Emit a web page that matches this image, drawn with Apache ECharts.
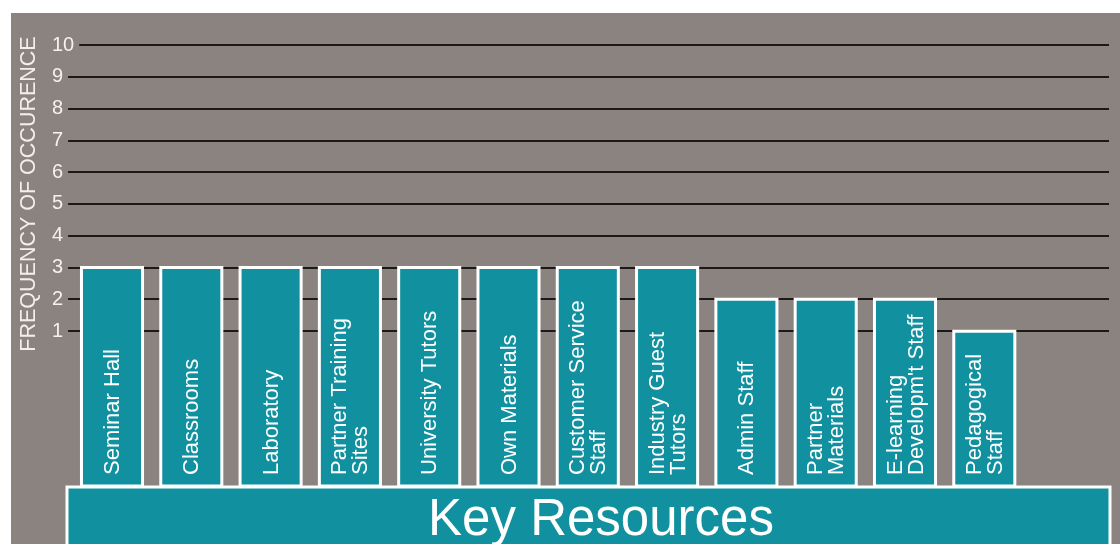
<!DOCTYPE html>
<html>
<head>
<meta charset="utf-8">
<script src="https://cdn.jsdelivr.net/npm/echarts@6/dist/echarts.min.js"></script>
<style>
html,body{margin:0;padding:0;background:#ffffff;width:1120px;height:544px;overflow:hidden;}
#chart{position:absolute;left:11px;top:13px;width:1109px;height:531px;}
</style>
</head>
<body>
<div id="chart"></div>
<script>
const categories = ['Seminar Hall', 'Classrooms', 'Laboratory', 'Partner Training\nSites', 'University Tutors', 'Own Materials', 'Customer Service\nStaff', 'Industry Guest\nTutors', 'Admin Staff', 'Partner\nMaterials', 'E-learning\nDevelopm\'t Staff', 'Pedagogical\nStaff'];
const values = [3, 3, 3, 3, 3, 3, 3, 3, 2, 2, 2, 1];
const yMinTick = 1;
const yMaxTick = 10;
const yAxisTitle = 'FREQUENCY OF OCCURENCE';
const footerTitle = 'Key Resources';

const BG = '#8a8380';
const TEAL = '#11909f';
const FONT = '"Liberation Sans", Arial, Helvetica, sans-serif';

const chart = echarts.init(document.getElementById('chart'));
chart.setOption({
  backgroundColor: BG,
  animation: false,
  grid: [
    { left: 56, right: 11, top: 32, bottom: 213 },
    { left: 61.35, width: 951.6, top: 32, bottom: 58 }
  ],
  xAxis: [
    { gridIndex: 0, type: 'category', data: categories, show: false },
    { gridIndex: 1, type: 'category', data: categories, show: false }
  ],
  yAxis: [
    {
      gridIndex: 0, type: 'value', min: yMinTick, max: yMaxTick, interval: 1,
      axisLine: { show: false }, axisTick: { show: false },
      splitLine: { show: true, lineStyle: { color: '#1d1918', width: 2 } },
      axisLabel: {
        color: '#f4f2f1', fontSize: 20, fontFamily: FONT, align: 'left', margin: 15,
        backgroundColor: BG, padding: [0, 5, 0, 0]
      }
    },
    { gridIndex: 1, type: 'value', min: -3.87, max: yMaxTick, show: false }
  ],
  series: [{
    type: 'custom',
    xAxisIndex: 1, yAxisIndex: 1,
    data: values.map((v, i) => [i, v]),
    renderItem: function (params, api) {
      const i = api.value(0);
      const top = api.coord([i, api.value(1)]);
      const bottom = params.coordSys.y + params.coordSys.height;
      const band = api.size([1, 0])[0];
      const w = band * 0.77;
      return {
        type: 'group',
        children: [
          {
            type: 'rect',
            shape: { x: top[0] - w / 2, y: top[1], width: w, height: bottom - top[1] },
            style: { fill: TEAL, stroke: '#ffffff', lineWidth: 3 }
          },
          {
            type: 'text',
            x: top[0] + 1, y: bottom - 11,
            rotation: Math.PI / 2,
            style: {
              text: categories[i], fill: '#ffffff', fontSize: 22, fontFamily: FONT,
              align: 'left', verticalAlign: 'middle', lineHeight: 21
            }
          }
        ]
      };
    }
  }],
  graphic: [
    {
      type: 'text', x: 18, y: 181, rotation: Math.PI / 2,
      style: { text: yAxisTitle, fill: '#f1eeec', fontSize: 21.5, fontFamily: FONT, align: 'center', verticalAlign: 'middle' }
    },
    {
      type: 'rect', z: 100,
      shape: { x: 56, y: 474, width: 1043, height: 80 },
      style: { fill: TEAL, stroke: '#ffffff', lineWidth: 3 }
    },
    {
      type: 'text', z: 101, x: 590, y: 533,
      style: { text: footerTitle, fill: '#ffffff', fontSize: 51, fontFamily: FONT, align: 'center', verticalAlign: 'bottom' }
    }
  ]
});
</script>
</body>
</html>
